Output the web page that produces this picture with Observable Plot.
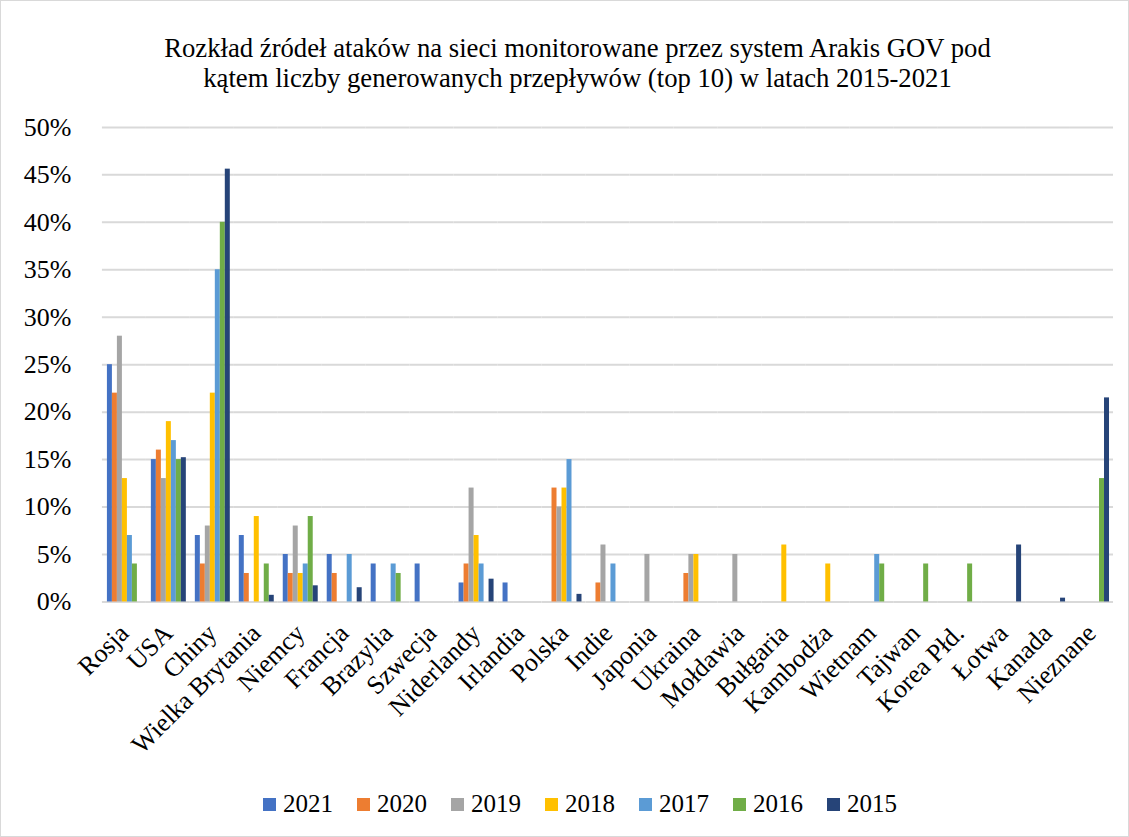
<!DOCTYPE html>
<html>
<head>
<meta charset="utf-8">
<script src="https://cdn.jsdelivr.net/npm/d3@7"></script>
<script src="https://cdn.jsdelivr.net/npm/@observablehq/plot@0.6"></script>
<style>
  html, body { margin: 0; padding: 0; background: #fff; }
  #frame { position: relative; width: 1129px; height: 837px; box-sizing: border-box; border: 1px solid #d9d9d9; overflow: hidden;
    font-family: "Liberation Serif", "Times New Roman", serif; color: #000; }
  #title { position: absolute; left: 12px; top: 32px; width: 1129px; text-align: center; font-size: 26.7px; line-height: 30px; }
  #chart { position: absolute; left: -1px; top: -1px; }
  #legend { position: absolute; top: 788px; left: 262px; display: flex; font-size: 25px; line-height: 30px; }
  .item { display: flex; align-items: center; width: 94px; }
  .sw { width: 13px; height: 13px; margin-right: 7px; }
</style>
</head>
<body>
<div id="frame">
  <div id="title">Rozkład źródeł ataków na sieci monitorowane przez system Arakis GOV pod<br>kątem liczby generowanych przepływów (top 10) w latach 2015-2021</div>
  <div id="chart"></div>
  <div id="legend"></div>
</div>
<script>
const countries = ["Rosja","USA","Chiny","Wielka Brytania","Niemcy","Francja","Brazylia","Szwecja","Niderlandy","Irlandia","Polska","Indie","Japonia","Ukraina","Mołdawia","Bułgaria","Kambodża","Wietnam","Tajwan","Korea Płd.","Łotwa","Kanada","Nieznane"];
const years = ["2021","2020","2019","2018","2017","2016","2015"];
const colors = ["#4472C4","#ED7D31","#A5A5A5","#FFC000","#5B9BD5","#70AD47","#264478"];
const yTicks = [0, 5, 10, 15, 20, 25, 30, 35, 40, 45, 50];

// values in percent, one per country (null = no bar)
const v2021 = [25, 15, 7, 7, 5, 5, 4, 4, 2, 2, null, null, null, null, null, null, null, null, null, null, null, null, null];
const v2020 = [22, 16, 4, 3, 3, 3, null, null, 4, null, 12, 2, null, 3, null, null, null, null, null, null, null, null, null];
const v2019 = [28, 13, 8, null, 8, null, null, null, 12, null, 10, 6, 5, 5, 5, null, null, null, null, null, null, null, null];
const v2018 = [13, 19, 22, 9, 3, null, null, null, 7, null, 12, null, null, 5, null, 6, 4, null, null, null, null, null, null];
const v2017 = [7, 17, 35, null, 4, 5, 4, null, 4, null, 15, 4, null, null, null, null, null, 5, null, null, null, null, null];
const v2016 = [4, 15, 40, 4, 9, null, 3, null, null, null, null, null, null, null, null, null, null, 4, 4, 4, null, null, 13];
const v2015 = [null, 15.2, 45.6, 0.7, 1.7, 1.5, null, null, 2.4, null, 0.8, null, null, null, null, null, null, null, null, null, 6, 0.4, 21.5];

const series = [v2021, v2020, v2019, v2018, v2017, v2016, v2015];
const data = [];
countries.forEach((c, i) => years.forEach((y, j) => {
  const v = series[j][i];
  if (v != null) data.push({country: c, year: y, value: v / 100});
}));
const ticks = yTicks.map(t => t / 100);

const chart = Plot.plot({
  width: 1129,
  height: 780,
  marginLeft: 102,
  marginRight: 15,
  marginTop: 127,
  marginBottom: 178,
  style: {fontFamily: "'Liberation Serif', 'Times New Roman', serif", fontSize: "26px", color: "#000", background: "transparent", overflow: "visible"},
  fx: {domain: countries, padding: 0, label: null, tickRotate: -45, tickSize: 0, tickPadding: 27},
  x: {domain: years, axis: null, paddingInner: 0.1, paddingOuter: 0.78},
  y: {domain: [0, 0.5], ticks: ticks, tickFormat: d3.format(".0%"), tickSize: 0, tickPadding: 31, label: null},
  color: {domain: years, range: colors},
  marks: [
    Plot.ruleY(ticks, {stroke: "#d9d9d9", strokeWidth: 2}),
    Plot.barY(data, {fx: "country", x: "year", y: "value", fill: "year"})
  ]
});
document.getElementById("chart").appendChild(chart);

const legend = document.getElementById("legend");
years.forEach((y, j) => {
  const it = document.createElement("div");
  it.className = "item";
  const sw = document.createElement("span");
  sw.className = "sw";
  sw.style.background = colors[j];
  it.appendChild(sw);
  it.appendChild(document.createTextNode(y));
  legend.appendChild(it);
});
</script>
</body>
</html>
